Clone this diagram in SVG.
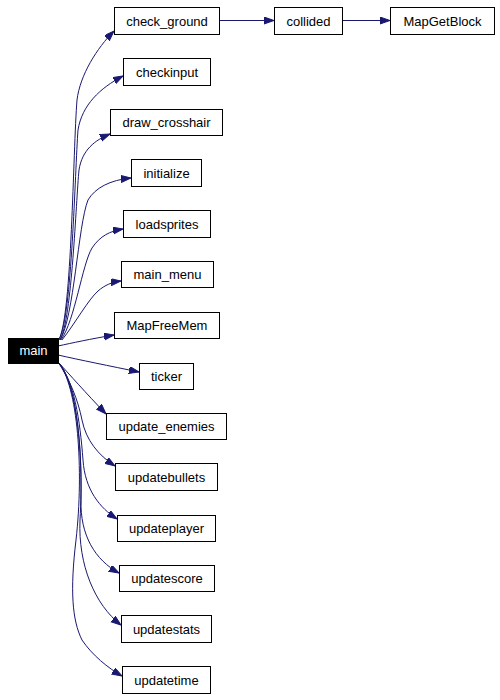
<svg xmlns="http://www.w3.org/2000/svg" width="500" height="700" viewBox="0 0 500 700">
<style>
.n rect{fill:#fff;stroke:#000;stroke-width:1}
.n text{font-family:"Liberation Sans",Arial,sans-serif;font-size:13px;text-anchor:middle;fill:#000}
#main rect{fill:#000}
#main text{fill:#fff}
.e path{fill:none;stroke:#191970;stroke-width:1}
</style>
<defs>
<marker id="a" markerUnits="userSpaceOnUse" markerWidth="11" markerHeight="8" refX="10" refY="3.5" orient="auto">
<polygon points="0,0 10,3.5 0,7" fill="#191970" stroke="#191970"/>
</marker>
</defs>
<rect width="500" height="700" fill="#fff"/>
<g class="e" id="edges">
<path marker-end="url(#a)" d="M59,339 C72,316 73,150 77,100 C80,75 97,48 114,31"/>
<path marker-end="url(#a)" d="M59,340 C72,318 75,170 78,130 C82,105 100,88 123,76"/>
<path marker-end="url(#a)" d="M60,340 C72,320 76,200 79,170 C82,150 95,140 110,134"/>
<path marker-end="url(#a)" d="M60,340 C74,318 78,225 88,200 C95,188 110,180 131,178"/>
<path marker-end="url(#a)" d="M61,340 C75,320 82,265 92,248 C100,236 110,231 123,229"/>
<path marker-end="url(#a)" d="M62,340 C76,322 88,300 98,291 C105,285 112,282 121,281"/>
<path marker-end="url(#a)" d="M58,346 C72,343 90,339 114,335"/>
<path marker-end="url(#a)" d="M58,355 C80,360 110,366 139,372"/>
<path marker-end="url(#a)" d="M59,363 C70,375 85,392 106,414"/>
<path marker-end="url(#a)" d="M58,362 C70,380 78,400 82,420 C86,440 98,455 115,466"/>
<path marker-end="url(#a)" d="M58,362 C74,380 80,420 83,460 C85,490 100,508 117,519"/>
<path marker-end="url(#a)" d="M58,362 C75,380 82,440 81,500 C80,535 95,560 119,573"/>
<path marker-end="url(#a)" d="M58,362 C76,380 84,450 80,520 C78,565 95,605 121,625"/>
<path marker-end="url(#a)" d="M58,362 C78,385 84,470 76,540 C70,590 72,620 82,640 C92,655 108,668 122,676"/>
<path marker-end="url(#a)" d="M219,20.5 L274,20.5"/>
<path marker-end="url(#a)" d="M342,20.5 L390,20.5"/>
</g>
<g class="n" id="main"><rect x="8.5" y="338.5" width="50" height="25"/><text x="33.5" y="355">main</text></g>
<g class="n" id="check_ground"><rect x="114.5" y="7.5" width="105" height="27"/><text x="167" y="25.5">check_ground</text></g>
<g class="n" id="collided"><rect x="274.5" y="7.5" width="68" height="27"/><text x="308.5" y="25.5">collided</text></g>
<g class="n" id="MapGetBlock"><rect x="390.5" y="7.5" width="104" height="27"/><text x="442.5" y="25.5">MapGetBlock</text></g>
<g class="n" id="checkinput"><rect x="123.5" y="58.5" width="87" height="27"/><text x="167" y="76.5">checkinput</text></g>
<g class="n" id="draw_crosshair"><rect x="110.5" y="109.5" width="112" height="26"/><text x="166.5" y="127">draw_crosshair</text></g>
<g class="n" id="initialize"><rect x="131.5" y="159.5" width="70" height="27"/><text x="166.5" y="177.5">initialize</text></g>
<g class="n" id="loadsprites"><rect x="123.5" y="210.5" width="87" height="27"/><text x="167" y="228.5">loadsprites</text></g>
<g class="n" id="main_menu"><rect x="121.5" y="261.5" width="92" height="26"/><text x="167.5" y="279">main_menu</text></g>
<g class="n" id="MapFreeMem"><rect x="114.5" y="312.5" width="105" height="26"/><text x="167" y="330">MapFreeMem</text></g>
<g class="n" id="ticker"><rect x="139.5" y="363.5" width="54" height="26"/><text x="166.5" y="381">ticker</text></g>
<g class="n" id="update_enemies"><rect x="106.5" y="413.5" width="120" height="26"/><text x="166.5" y="431">update_enemies</text></g>
<g class="n" id="updatebullets"><rect x="115.5" y="463.5" width="102" height="27"/><text x="166.5" y="481.5">updatebullets</text></g>
<g class="n" id="updateplayer"><rect x="117.5" y="515.5" width="98" height="26"/><text x="166.5" y="533">updateplayer</text></g>
<g class="n" id="updatescore"><rect x="119.5" y="565.5" width="95" height="26"/><text x="167" y="583">updatescore</text></g>
<g class="n" id="updatestats"><rect x="121.5" y="615.5" width="90" height="27"/><text x="166.5" y="633.5">updatestats</text></g>
<g class="n" id="updatetime"><rect x="122.5" y="666.5" width="88" height="27"/><text x="166.5" y="684.5">updatetime</text></g>
</svg>
